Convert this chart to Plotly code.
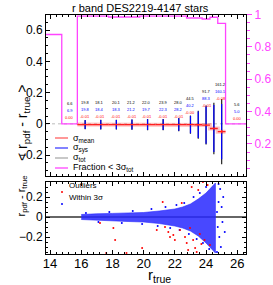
import plotly.graph_objects as go

# ---------------- data ----------------
title = "r band DES2219-4147 stars"

# top panel: bins (center, half width)
bin_x = [16.25, 17.25, 18.25, 19.25, 20.25, 21.25, 22.25, 23.0, 23.5, 24.0, 24.5, 25.0]
bin_hw = [0.5, 0.5, 0.5, 0.5, 0.5, 0.5, 0.5, 0.25, 0.25, 0.25, 0.25, 0.25]
mean_val = [-0.005, -0.005, -0.005, -0.005, -0.005, -0.005, -0.005, -0.005, -0.006, -0.008, -0.03, -0.05]
sig_mean = [0.002, 0.002, 0.002, 0.002, 0.002, 0.002, 0.002, 0.003, 0.004, 0.005, 0.006, 0.01]
sig_sys = [0.028, 0.03, 0.03, 0.032, 0.035, 0.035, 0.04, 0.055, 0.085, 0.12, 0.15, 0.177]
sig_tot = [0.029, 0.031, 0.031, 0.033, 0.036, 0.036, 0.042, 0.058, 0.09, 0.125, 0.165, 0.209]

# per-bin text labels (black: sigma_tot, blue: sigma_sys, red: mean)
lab_x = [15.25, 16.25, 17.2, 18.25, 19.25, 20.2, 21.25, 22.25, 23.0, 24.05, 24.95, 26.0]
lab_tot = ["6.6", "19.8", "18.1", "20.1", "21.2", "22.0", "23.9", "28.0", "44.5", "91.7", "161.2", "5.6"]
lab_sys = ["6.9", "19.8", "18.4", "18.3", "21.2", "19.7", "22.3", "28.2", "40.2", "88.3", "160.1", "5.0"]
lab_mean = ["0.00", "-0.01", "-0.01", "-0.01", "-0.01", "-0.01", "-0.01", "-0.01", "-0.00", "-0.01", "-0.08", "0.00"]
lab_y = [0.13, 0.135, 0.135, 0.135, 0.135, 0.135, 0.135, 0.135, 0.16, 0.21, 0.25, 0.125]

# fraction < 3 sigma_tot histogram (right axis)
frac_edges = [13.74, 14.75, 15.75, 16.75, 17.75, 18.75, 19.75, 20.75, 21.75, 22.75, 23.25, 23.75, 24.25, 24.75, 25.25, 26.56]
frac_vals = [0.817, 0.0, 0.985, 0.985, 0.977, 0.977, 0.985, 0.985, 0.985, 0.968, 0.968, 0.959, 0.975, 0.918, 0.0]

# bottom panel: dense core envelope of "within 3 sigma" points
env_x = [16.0, 16.5, 17.0, 18.0, 19.0, 20.0, 21.0, 22.0, 22.5, 23.0, 23.5, 24.0, 24.3, 24.6]
env_hi = [0.025, 0.03, 0.032, 0.036, 0.04, 0.045, 0.06, 0.08, 0.1, 0.13, 0.18, 0.24, 0.29, 0.34]
env_lo = [-0.025, -0.03, -0.034, -0.04, -0.045, -0.05, -0.065, -0.09, -0.11, -0.14, -0.19, -0.26, -0.31, -0.36]

# sparse blue points outside the core
blue_x = [16.3, 17.1, 17.8, 18.6, 19.3, 19.9, 20.5, 20.9, 21.4, 21.7, 22.1, 22.3, 22.6, 22.9, 23.2, 23.4,
          23.6, 23.8, 24.0, 24.2, 24.7, 24.75, 24.8, 24.85, 24.9, 24.95, 25.0, 25.05, 25.1, 25.2, 24.7, 24.8]
blue_y = [0.04, -0.05, 0.05, -0.06, 0.06, -0.07, 0.08, -0.09, 0.1, -0.11, 0.12, -0.13, 0.14, -0.17, 0.2, -0.22,
          0.24, -0.26, 0.3, -0.32, 0.05, -0.1, 0.15, -0.2, 0.28, -0.3, 0.1, -0.05, 0.2, -0.15, -0.35, 0.33]

# red outliers
red_x = [17.2, 18.06, 18.17, 17.6, 18.9, 19.9, 20.84, 21.22, 21.37, 21.58, 21.69, 21.9, 22.0, 22.33, 22.44,
         22.65, 22.76, 22.85, 22.97, 23.08, 23.17, 23.3, 23.4, 23.5, 23.6, 23.7, 23.8, 23.9, 24.1, 24.25]
red_y = [-0.06, -0.11, -0.23, -0.36, -0.36, -0.31, -0.13, 0.15, -0.10, -0.15, -0.20, -0.18, -0.23, -0.13, 0.14,
         -0.20, -0.26, -0.33, -0.11, 0.30, -0.23, -0.31, -0.35, 0.27, -0.17, -0.27, 0.35, -0.23, 0.32, -0.28]

# ---------------- layout geometry ----------------
W, H = 273, 285
XR = [13.74, 26.56]
YL = [-0.334, 0.70]
YR = [0.002, 1.0]
YB = [-0.37, 0.35]
FRAC_SCALE = YL[1]  # fraction histogram drawn scaled to the left-axis maximum


def px(x):
    return x / W


def py(y):
    return 1 - y / H


xdom = [px(46), px(246)]
top_dom = [py(176), py(14.5)]
bot_dom = [py(254), py(182)]

fig = go.Figure()

# zero dotted line in top panel
fig.add_trace(go.Scatter(x=XR, y=[0, 0], mode="lines", xaxis="x", yaxis="y",
                         line=dict(color="#bbbbbb", width=1, dash="dot"), hoverinfo="skip"))

# fraction step line
fx, fy = [], []
for i, v in enumerate(frac_vals):
    fx += [frac_edges[i], frac_edges[i + 1]]
    fy += [v * FRAC_SCALE, v * FRAC_SCALE]
fig.add_trace(go.Scatter(x=fx, y=fy, mode="lines", xaxis="x", yaxis="y",
                         line=dict(color="#ff44ff", width=1.3), hoverinfo="skip"))

# sigma_mean light band
bx, by = [], []
for i in range(len(bin_x)):
    bx += [bin_x[i] - bin_hw[i], bin_x[i] + bin_hw[i]]
    by += [mean_val[i], mean_val[i]]
fig.add_trace(go.Scatter(x=bx, y=by, mode="lines", xaxis="x", yaxis="y",
                         line=dict(color="rgba(255,120,120,0.45)", width=4), hoverinfo="skip"))

# sigma_tot bars
fig.add_trace(go.Scatter(x=bin_x, y=mean_val, mode="markers", xaxis="x", yaxis="y",
                         marker=dict(size=1, color="rgba(0,0,0,0)"),
                         error_y=dict(type="data", array=sig_tot, color="#222222", thickness=1.2, width=0),
                         hoverinfo="skip"))
# sigma_sys bars
fig.add_trace(go.Scatter(x=bin_x, y=mean_val, mode="markers", xaxis="x", yaxis="y",
                         marker=dict(size=1, color="rgba(0,0,0,0)"),
                         error_y=dict(type="data", array=sig_sys, color="#0000ff", thickness=1.2, width=0),
                         hoverinfo="skip"))
# mean with sigma_mean
fig.add_trace(go.Scatter(x=bin_x, y=mean_val, mode="markers", xaxis="x", yaxis="y",
                         marker=dict(size=1, color="rgba(0,0,0,0)"),
                         error_x=dict(type="data", array=bin_hw, color="#ff2020", thickness=1.3, width=0),
                         error_y=dict(type="data", array=sig_mean, color="#ff2020", thickness=1.3, width=0),
                         hoverinfo="skip"))

# dummy on right axis
fig.add_trace(go.Scatter(x=[XR[0]], y=[0.5], mode="markers", xaxis="x", yaxis="y2",
                         marker=dict(size=1, color="rgba(0,0,0,0)"), hoverinfo="skip"))

# bottom panel
fig.add_trace(go.Scatter(x=XR, y=[0, 0], mode="lines", xaxis="x2", yaxis="y3",
                         line=dict(color="#333333", width=1.5), hoverinfo="skip"))
fig.add_trace(go.Scatter(x=env_x + env_x[::-1], y=env_hi + env_lo[::-1], mode="lines", fill="toself",
                         xaxis="x2", yaxis="y3", fillcolor="rgba(40,40,255,0.85)",
                         line=dict(color="rgba(40,40,255,0.6)", width=1), hoverinfo="skip"))
fig.add_trace(go.Scatter(x=blue_x, y=blue_y, mode="markers", xaxis="x2", yaxis="y3",
                         marker=dict(size=2, color="blue"), hoverinfo="skip"))
fig.add_trace(go.Scatter(x=red_x, y=red_y, mode="markers", xaxis="x2", yaxis="y3",
                         marker=dict(size=2, color="red"), hoverinfo="skip"))

font = "Liberation Sans, Arial, sans-serif"


def axstyle(**kw):
    d = dict(showline=True, linecolor="black", linewidth=1, mirror="ticks", ticks="inside",
             ticklen=4, tickcolor="black", showgrid=False, zeroline=False, automargin=False,
             tickfont=dict(family=font, size=12, color="black"))
    d.update(kw)
    return d


fig.update_layout(
    width=W, height=H, margin=dict(l=0, r=0, t=0, b=0, autoexpand=False),
    paper_bgcolor="white", plot_bgcolor="white", showlegend=False,
    xaxis=axstyle(domain=xdom, range=XR, anchor="y", tickmode="linear", tick0=14, dtick=2,
                  showticklabels=False,
                  minor=dict(ticks="inside", ticklen=2, tickcolor="black", dtick=0.4)),
    yaxis=axstyle(domain=top_dom, range=YL, anchor="x", tickmode="linear", tick0=0, dtick=0.2,
                  mirror=True,
                  minor=dict(ticks="inside", ticklen=2, tickcolor="black", dtick=0.05)),
    yaxis2=dict(overlaying="y", side="right", anchor="x", range=YR, tickmode="linear", tick0=0, dtick=0.2,
                showline=False, ticks="outside", ticklen=5, tickcolor="#ff44ff", showgrid=False,
                zeroline=False, automargin=False, tickfont=dict(family=font, size=12, color="#ff44ff"),
                minor=dict(ticks="outside", ticklen=3, tickcolor="#ff44ff", dtick=0.05)),
    xaxis2=axstyle(domain=xdom, range=XR, anchor="y3", tickmode="linear", tick0=14, dtick=2,
                   tickfont=dict(family=font, size=13, color="black"), ticklabelstandoff=-3,
                   minor=dict(ticks="inside", ticklen=2, tickcolor="black", dtick=0.4)),
    yaxis3=axstyle(domain=bot_dom, range=YB, anchor="x2", tickmode="linear", tick0=0, dtick=0.2,
                   minor=dict(ticks="inside", ticklen=2, tickcolor="black", dtick=0.05)),
)

ann = []
ann.append(dict(text=title, x=px(140), y=py(0), xref="paper", yref="paper", yanchor="top", showarrow=False,
                font=dict(family=font, size=11, color="black")))
# axis titles
ann.append(dict(text="&lt; r<sub>pdf</sub> - r<sub>true</sub> &gt;", x=px(12), y=py(83), xref="paper", yref="paper",
                textangle=-90, showarrow=False, font=dict(family=font, size=14, color="black")))
ann.append(dict(text="r<sub>pdf</sub> - r<sub>true</sub>", x=px(13), y=py(219), xref="paper", yref="paper",
                textangle=-90, showarrow=False, font=dict(family=font, size=11, color="black")))
ann.append(dict(text="r<sub>true</sub>", x=px(159), y=py(287), xref="paper", yref="paper", yanchor="bottom",
                showarrow=False, font=dict(family=font, size=15, color="black")))
# per-bin labels
for i in range(len(lab_x)):
    for j, (txt, col) in enumerate([(lab_tot[i], "black"), (lab_sys[i], "blue"), (lab_mean[i], "red")]):
        ann.append(dict(text=txt, x=lab_x[i], y=lab_y[i], xref="x", yref="y", yshift=-j * 7,
                        showarrow=False, font=dict(family=font, size=4, color=col)))
# top legend
leg = [("σ<sub>mean</sub>", "#ff6060", 138), ("σ<sub>sys</sub>", "#4040ff", 148),
       ("σ<sub>tot</sub>", "#aaaaaa", 158), ("Fraction &lt; 3σ<sub>tot</sub>", "#ff44ff", 168)]
shapes = []
for txt, col, yy in leg:
    shapes.append(dict(type="line", xref="paper", yref="paper", x0=px(55), x1=px(68), y0=py(yy), y1=py(yy),
                       line=dict(color=col, width=1.3)))
    ann.append(dict(text=txt, x=px(71), y=py(yy), xref="paper", yref="paper", xanchor="left", showarrow=False,
                    font=dict(family=font, size=9, color="black")))
# bottom legend markers
for yy, col in [(192, "red"), (204, "blue")]:
    shapes.append(dict(type="circle", xref="paper", yref="paper", x0=px(61), x1=px(63),
                       y0=py(yy + 1), y1=py(yy - 1), line=dict(width=0), fillcolor=col))
ann.append(dict(text="Outliers", x=px(67), y=py(192), xref="paper", yref="paper", xanchor="left",
                showarrow=False, font=dict(family=font, size=8, color="black")))
ann.append(dict(text="Within 3σ", x=px(67), y=py(204), xref="paper", yref="paper", xanchor="left",
                showarrow=False, font=dict(family=font, size=8, color="black")))

fig.update_layout(annotations=ann, shapes=shapes)
fig.write_html("out.html", config={"displayModeBar": False},
               post_script="document.body.style.margin='0px';document.body.style.padding='0px';"
                           "document.body.style.overflow='hidden';")
